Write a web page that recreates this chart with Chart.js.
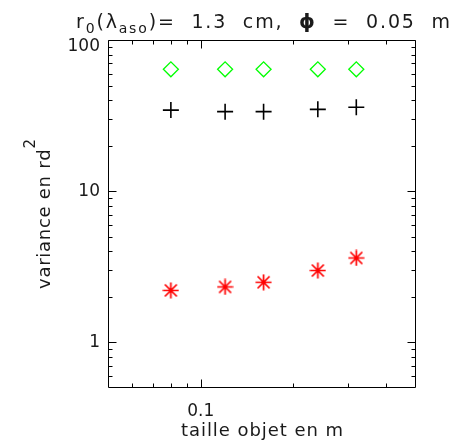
<!DOCTYPE html>
<html><head><meta charset="utf-8">
<script src="https://cdn.jsdelivr.net/npm/chart.js@4/dist/chart.umd.min.js"></script>
<style>html,body{margin:0;padding:0;background:#fff;overflow:hidden}#wrap{width:468px;height:445px}</style>
</head><body><div id="wrap"><canvas id="c" width="468" height="445"></canvas></div>
<script>
const objectSizes = [0.08, 0.12, 0.16, 0.24, 0.32];
const varianceDiamond = [64, 64, 64, 64, 64];
const variancePlus = [34.4, 33.6, 33.6, 34.8, 35.9];
const varianceStar = [2.21, 2.33, 2.50, 2.99, 3.62];
const xTickLabels = [0.1];
const yTickLabels = [1, 10, 100];
const xMinorTicks = [0.06, 0.07, 0.08, 0.09, 0.2, 0.3, 0.4];
const yMinorTicks = [0.6, 0.7, 0.8, 0.9, 2, 3, 4, 5, 6, 7, 8, 9, 20, 30, 40, 50, 60, 70, 80, 90];

const TXT = '#1a1a1a';
const FONT = 'DejaVu Sans';

function starImg(color) {
  const c = document.createElement('canvas');
  c.width = 17; c.height = 17;
  const g = c.getContext('2d');
  g.strokeStyle = color; g.lineWidth = 1.7;
  g.beginPath();
  g.moveTo(8.5, 0.5); g.lineTo(8.5, 16.5);
  g.moveTo(0.5, 8.5); g.lineTo(16.5, 8.5);
  g.moveTo(2.5, 2.5); g.lineTo(14.5, 14.5);
  g.moveTo(14.5, 2.5); g.lineTo(2.5, 14.5);
  g.stroke();
  return c;
}

function pts(ys) { return objectSizes.map((x, i) => ({x: x, y: ys[i]})); }

function drawSpaced(ctx, segs, cx, baseY, target) {
  const chars = [];
  segs.forEach(s => { for (const ch of s.t) chars.push({ch, font: s.font, dy: s.dy || 0}); });
  let nat = 0;
  chars.forEach(c => { ctx.font = c.font; c.w = ctx.measureText(c.ch).width; nat += c.w; });
  const ls = chars.length > 1 ? (target - nat) / (chars.length - 1) : 0;
  let xx = cx - target / 2;
  ctx.textAlign = 'left'; ctx.textBaseline = 'alphabetic';
  chars.forEach(c => { ctx.font = c.font; ctx.fillText(c.ch, xx, baseY + c.dy); xx += c.w + ls; });
}

const decor = {
  id: 'decor',
  afterDraw(chart) {
    const {ctx, chartArea: a, scales: {x, y}} = chart;
    ctx.save();
    ctx.strokeStyle = '#000'; ctx.lineWidth = 1;
    const L = Math.round(a.left) + 0.5, R = Math.round(a.right) - 0.5;
    const T = Math.round(a.top) + 0.5, B = Math.round(a.bottom) - 0.5;
    ctx.beginPath();
    ctx.rect(L, T, R - L, B - T);
    const xt = (v, len) => { const p = Math.round(x.getPixelForValue(v)) + 0.5; ctx.moveTo(p, B); ctx.lineTo(p, B - len); ctx.moveTo(p, T); ctx.lineTo(p, T + len); };
    const yt = (v, len) => { const p = Math.round(y.getPixelForValue(v)) + 0.5; ctx.moveTo(L, p); ctx.lineTo(L + len, p); ctx.moveTo(R, p); ctx.lineTo(R - len, p); };
    xTickLabels.forEach(v => xt(v, 8));
    xMinorTicks.forEach(v => xt(v, 4));
    yTickLabels.forEach(v => yt(v, 8));
    yMinorTicks.forEach(v => yt(v, 4));
    ctx.stroke();

    ctx.fillStyle = TXT;
    const cx = (a.left + a.right) / 2;
    const big = '19px "' + FONT + '"', small = '14px "' + FONT + '"', phi = 'bold 20px "' + FONT + '"';
    drawSpaced(ctx, [
      {t: 'r', font: big}, {t: '0', font: small, dy: 5}, {t: '(', font: big},
      {t: 'λ', font: big}, {t: 'aso', font: small, dy: 5}, {t: ')=  1.3  cm,  ', font: big},
      {t: 'ϕ', font: phi}, {t: '  =  0.05  m', font: big}
    ], cx + 1, 28, 374);

    const axf = '18px "' + FONT + '"';
    drawSpaced(ctx, [{t: 'taille objet en m', font: axf}], cx, 436, 162);

    ctx.translate(50, (a.top + a.bottom) / 2);
    ctx.rotate(-Math.PI / 2);
    drawSpaced(ctx, [{t: 'variance en rd', font: axf}, {t: '2', font: '15px "' + FONT + '"', dy: -15}], 0, 0, 150);
    ctx.restore();
  }
};

new Chart(document.getElementById('c'), {
  type: 'scatter',
  data: {
    datasets: [
      {data: pts(varianceDiamond), pointStyle: 'rectRot', pointRadius: 7.5, pointHoverRadius: 7.5,
       borderColor: '#00ff00', backgroundColor: 'rgba(0,0,0,0)', pointBorderWidth: 1.3},
      {data: pts(variancePlus), pointStyle: 'cross', pointRadius: 8, pointHoverRadius: 8,
       borderColor: '#000', backgroundColor: '#000', pointBorderWidth: 1.6},
      {data: pts(varianceStar), pointStyle: starImg('#ff0000'), pointRadius: 8,
       borderColor: '#ff0000', backgroundColor: '#ff0000'}
    ]
  },
  options: {
    responsive: false, animation: false, devicePixelRatio: 1,
    layout: {padding: {left: 0, right: 52, top: 40, bottom: 0}},
    plugins: {legend: {display: false}, tooltip: {enabled: false}, title: {display: false}},
    scales: {
      x: {
        type: 'logarithmic', min: 0.05, max: 0.5,
        afterBuildTicks: s => { s.ticks = xTickLabels.map(v => ({value: v})); },
        afterFit: s => { s.height = 57; },
        grid: {display: false, drawTicks: false}, border: {display: false},
        ticks: {autoSkip: false, maxRotation: 0, padding: 13, color: TXT,
          font: {family: FONT, size: 17}, callback: v => String(v)}
      },
      y: {
        type: 'logarithmic', min: 0.5, max: 100,
        afterBuildTicks: s => { s.ticks = yTickLabels.map(v => ({value: v})); },
        afterFit: s => { s.width = 108; },
        grid: {display: false, drawTicks: false}, border: {display: false},
        ticks: {autoSkip: false, padding: 8, color: TXT,
          font: {family: FONT, size: 17, lineHeight: 0.8},
          callback: v => v === 100 ? ['', '100'] : String(v)}
      }
    }
  },
  plugins: [decor]
});
</script>
</body></html>
